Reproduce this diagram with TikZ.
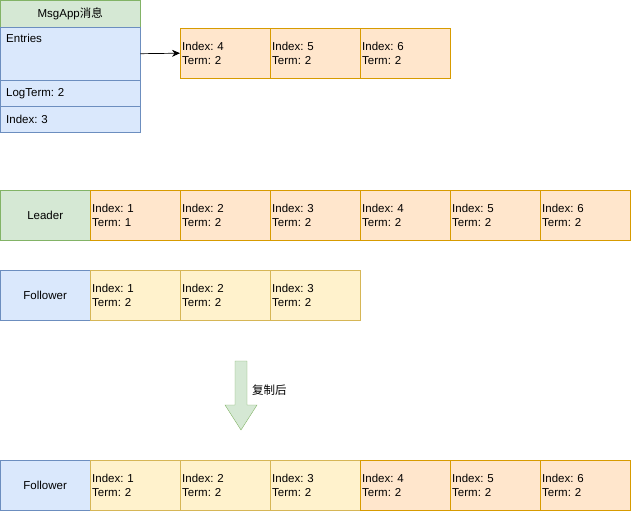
\documentclass[tikz,border=0pt]{standalone}
\usepackage{fontspec}
\setmainfont{Liberation Sans}
\newfontfamily\cjk{Noto Sans CJK SC}
\usetikzlibrary{arrows.meta}
\frenchspacing

\definecolor{grfill}{HTML}{D5E8D4}\definecolor{grline}{HTML}{82B366}
\definecolor{blfill}{HTML}{DAE8FC}\definecolor{blline}{HTML}{6C8EBF}
\definecolor{orfill}{HTML}{FFE6CC}\definecolor{orline}{HTML}{D79B00}
\definecolor{yefill}{HTML}{FFF2CC}\definecolor{yeline}{HTML}{D6B656}

\begin{document}
\begin{tikzpicture}[x=1pt, y=-1pt,
  every node/.style={font=\fontsize{11.5}{13.5}\selectfont},
  box/.style={rectangle, draw, anchor=north west, inner sep=0pt,
              minimum width=90pt, minimum height=50pt},
  role/.style={box, align=center},
  leadbox/.style={role, fill=grfill, draw=grline},
  follbox/.style={role, fill=blfill, draw=blline},
  entry/.style={box, inner xsep=2pt, text width=86pt, align=left},
  neu/.style={entry, fill=orfill, draw=orline},
  old/.style={entry, fill=yefill, draw=yeline},
  msgpart/.style={rectangle, draw=blline, fill=blfill, anchor=north west,
                  minimum width=140pt, inner sep=0pt},
  field/.style={msgpart, minimum height=26pt, align=left, inner xsep=6pt,
                text width=128pt},
  lk/.style={-{Stealth[length=8pt,width=7pt]}, black, line width=0.7pt}]
\useasboundingbox (0,0) rectangle (631,511);

%% MsgApp message
\node[msgpart, fill=grfill, draw=grline, minimum height=27pt] (head) at (0,0)
  {MsgApp{\cjk 消息}};
\node[msgpart, minimum height=53pt] (entries) at (0,27) {};
\node[anchor=north west, inner sep=0pt] (entlbl)
  at ([xshift=6pt, yshift=-7pt]entries.north west) {Entries};
\node[field] (logterm) at (0,80) {LogTerm: 2};
\node[field] (idx) at (0,106) {Index: 3};

%% entries carried by the message
\foreach \i/\x in {4/180, 5/270, 6/360}
  \node[neu] (m\i) at (\x,28) {Index: \i\\Term: 2};
\draw[lk] (entries.east) -- (m4.west);

%% Leader log
\node[leadbox] (leader) at (0,190) {Leader};
\node[neu] (l1) at (90,190) {Index: 1\\Term: 1};
\foreach \i/\x in {2/180, 3/270, 4/360, 5/450, 6/540}
  \node[neu] (l\i) at (\x,190) {Index: \i\\Term: 2};

%% Follower log before
\node[follbox] (foll) at (0,270) {Follower};
\foreach \i/\x in {1/90, 2/180, 3/270}
  \node[old] (f\i) at (\x,270) {Index: \i\\Term: 2};

%% block arrow
\draw[grline, fill=grfill] (235,361) -- (247,361) -- (247,405) -- (257,405)
  -- (241,430) -- (225,405) -- (235,405) -- cycle;
\node[anchor=west, inner sep=0pt] (copied) at (252,390) {\cjk 复制后};

%% Follower log after
\node[follbox] (foll2) at (0,460) {Follower};
\foreach \i/\x in {1/90, 2/180, 3/270}
  \node[old] (g\i) at (\x,460) {Index: \i\\Term: 2};
\foreach \i/\x in {4/360, 5/450, 6/540}
  \node[neu] (g\i) at (\x,460) {Index: \i\\Term: 2};
\end{tikzpicture}
\end{document}
